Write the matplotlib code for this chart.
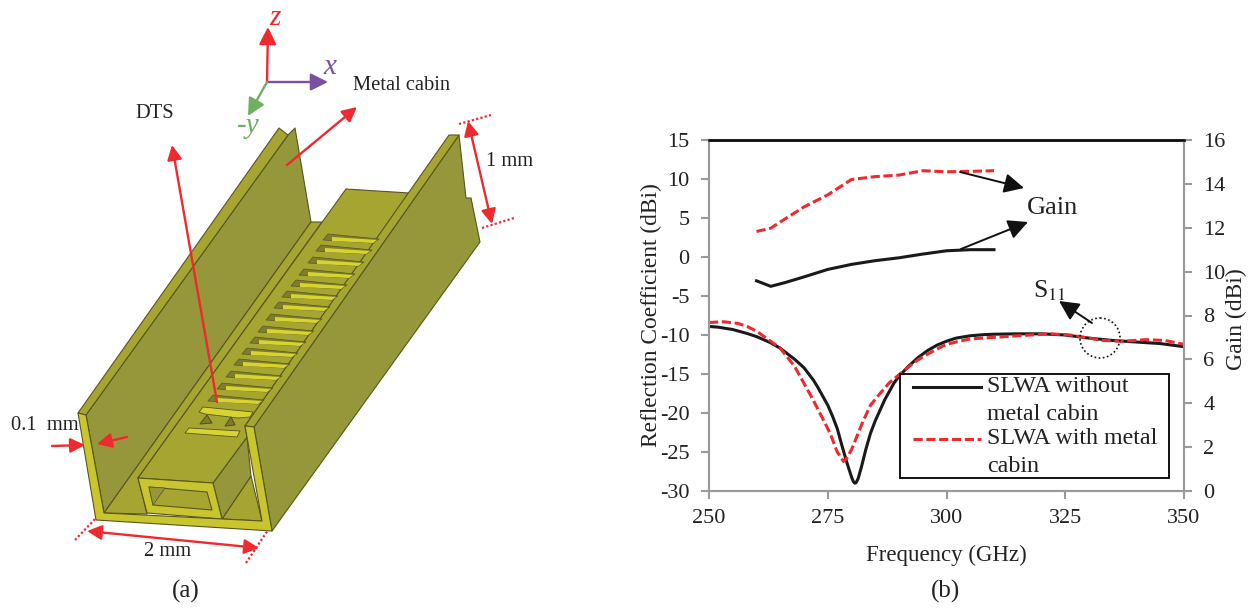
import matplotlib
matplotlib.use('Agg')
import matplotlib.pyplot as plt
from matplotlib.patches import Polygon, Circle, Rectangle

plt.rcParams['font.family'] = ['Liberation Serif', 'DejaVu Serif']
plt.rcParams['mathtext.fontset'] = 'stix'
plt.rcParams['axes.unicode_minus'] = False

W, H = 1251, 608

# S11 curves (left axis)
s11_freq_black = [250, 252, 255, 258, 260, 263, 265, 268, 270, 272, 273, 275, 276, 277, 278, 279, 280, 280.4, 280.7, 281, 281.4, 282.1, 283, 284, 285, 287, 289, 290, 292, 294, 296, 298, 300, 302, 305, 308, 310, 315, 320, 325, 330, 335, 340, 345, 350]
s11_black = [-8.9, -9.0, -9.3, -9.8, -10.2, -11.0, -11.7, -13.1, -14.2, -15.8, -16.8, -19, -20.4, -22, -24.2, -26.3, -28.2, -28.8, -29, -28.9, -28.4, -26.9, -24.7, -22.6, -21, -18.3, -16.1, -15.3, -14, -12.9, -12, -11.3, -10.8, -10.4, -10.1, -9.95, -9.9, -9.85, -9.85, -10, -10.4, -10.7, -10.9, -11.1, -11.5]
s11_freq_red = [250, 253, 256, 258, 260, 263, 265, 268, 270, 272, 274, 275.5, 277, 278.3, 279, 280, 281, 282.4, 284, 286, 288, 291, 293, 295, 298, 300, 302, 305, 310, 315, 322, 326, 330, 333, 337, 342, 346, 350]
s11_red = [-8.4, -8.3, -8.5, -8.9, -9.5, -10.8, -11.7, -14, -16.2, -18.4, -20.8, -22.6, -25, -26.2, -25.8, -24.7, -23.2, -21.1, -19, -17.5, -16.1, -14.6, -13.6, -12.8, -11.8, -11.2, -10.9, -10.5, -10.3, -10.1, -9.85, -10, -10.4, -10.7, -10.8, -10.6, -10.7, -11.2]

# gain curves (right axis)
gain_freq = [260, 263, 266, 270, 275, 280, 285, 290, 295, 300, 305, 310]
gain_black = [9.58, 9.33, 9.5, 9.76, 10.1, 10.33, 10.5, 10.63, 10.8, 10.95, 11, 11]
gain_red = [11.83, 11.98, 12.4, 12.95, 13.5, 14.2, 14.33, 14.4, 14.6, 14.55, 14.57, 14.6]

x_ticks = [250, 275, 300, 325, 350]
y_ticks = [-30, -25, -20, -15, -10, -5, 0, 5, 10, 15]
y2_ticks = [0, 2, 4, 6, 8, 10, 12, 14, 16]

legend_rows = ['SLWA without', 'metal cabin', 'SLWA with metal', 'cabin']

# outline of the 3D model in panel (a), in image pixels
wall_right_out = [(254, 427), (272, 531), (480, 242), (471, 198), (466, 198), (459, 135)]
wall_right_top = [(245, 426), (254, 427), (459, 135), (449, 135)]
wall_left_in = [(86, 415), (288, 135), (295, 128), (311, 222), (104, 513)]
wall_left_top = [(78, 413), (86, 415), (288, 135), (279, 128)]
floor_left = [(104, 513), (311, 222), (322, 222), (138, 478), (147, 514)]
floor_right = [(222, 519), (262, 521), (251, 476)]
box_side = [(213, 483), (247, 437), (251, 476), (222, 519)]
box_top = [(138, 478), (346, 189), (409, 193), (245, 426), (247, 437), (213, 483)]
front_u = [(78, 413), (86, 415), (104, 513), (262, 521), (245, 426), (254, 427), (272, 531), (96, 520)]
box_ring = [(138, 478), (213, 483), (222, 519), (147, 513)]
box_hole = [(149, 487), (207, 492), (212, 510), (153, 505)]
box_hole_dark = [(149, 487), (165, 488), (153, 505)]
slot_left_x = [323, 316, 308, 299, 291, 282, 274, 266, 258, 250, 242, 234, 226, 217, 208]
slot_y = [240, 251, 263, 275, 286, 297, 308, 320, 332, 343, 354, 365, 377, 389, 401]
feed_bar = [(199, 412), (203, 407), (253, 412), (250, 417), (238, 418), (205, 414)]
feed_leg_left = [(200, 424), (207, 415), (212, 423)]
feed_leg_right = [(225, 426), (231, 417), (235, 425)]
feed_low = [(185, 433), (189, 428), (240, 431), (237, 437)]
colour_dark = '#96963a'
colour_top = '#a7a532'
colour_front = '#c9c52e'
colour_bright = '#d8d42f'
colour_notch = '#7e7e2a'
colour_edge = '#565622'

fig = plt.figure(figsize=(W / 100, H / 100), dpi=100)

# panel (b)
ax = fig.add_axes([709 / W, 1 - 491 / H, 475 / W, 351 / H])
ax.plot(s11_freq_black, s11_black, color='#1a1a1a', lw=2.2)
ax.plot(s11_freq_red, s11_red, color='#ee2a2e', lw=2.2, ls=(0, (3, 1.2)))
ax.set_xlim(250, 350)
ax.set_ylim(-30, 15)
ax.set_xticks(x_ticks)
ax.set_yticks(y_ticks)
ax.set_xlabel('Frequency (GHz)', fontsize=16.5, labelpad=12, color='#222222')
ax.set_ylabel('Reflection Coefficient (dBi)', fontsize=16.8, color='#222222')
ax.yaxis.set_label_coords(-47 / 475, 1 - 175 / 351)
ax.tick_params(labelsize=16, color='#9a9a9a', width=1.5, length=6, labelcolor='#222222')
ax.tick_params(axis='x', pad=7)
ax.tick_params(axis='y', pad=8)

ax2 = ax.twinx()
ax2.plot(gain_freq, gain_black, color='#1a1a1a', lw=2.2)
ax2.plot(gain_freq, gain_red, color='#ee2a2e', lw=2.2, ls=(0, (3, 1.2)))
ax2.set_ylim(0, 16)
ax2.set_yticks(y2_ticks)
ax2.set_ylabel('Gain (dBi)', fontsize=17, color='#222222')
ax2.yaxis.set_label_coords(1 + 42 / 475, 1 - 179 / 351)
ax2.tick_params(labelsize=16, color='#9a9a9a', width=1.5, length=6, labelcolor='#222222', pad=8)
for a in [ax, ax2]:
    for side in ['left', 'right', 'bottom']:
        a.spines[side].set_color('#9a9a9a')
        a.spines[side].set_linewidth(1.5)
    a.spines['top'].set_color('#111111')
    a.spines['top'].set_linewidth(1.8)

# overlay in image pixels for the model and all callouts
ov = fig.add_axes([0, 0, 1, 1], facecolor='none')
ov.set_xlim(0, W)
ov.set_ylim(H, 0)
ov.axis('off')


def poly(pts, colour, lw=0.8):
    ov.add_patch(Polygon(pts, closed=True, facecolor=colour, edgecolor=colour_edge, lw=lw, joinstyle='round'))


def arrow(start, end, colour, style='-|>', size=22, lw=1.7):
    ov.annotate('', xy=end, xytext=start, arrowprops=dict(arrowstyle=style, color=colour, lw=lw, mutation_scale=size, shrinkA=0, shrinkB=0))


poly(wall_right_out, colour_dark)
poly(wall_left_in, colour_dark)
poly(floor_left, colour_top)
poly(floor_right, colour_top)
poly(box_side, colour_dark)
poly(box_top, colour_top)
poly(wall_left_top, colour_top)
poly(wall_right_top, colour_top)
for sx, sy in zip(slot_left_x, slot_y):
    poly([(sx, sy), (sx + 5, sy - 6), (sx + 56, sy - 1), (sx + 50, sy + 3)], colour_notch, 0.5)
    ov.add_patch(Polygon([(sx + 9, sy - 3), (sx + 54, sy), (sx + 50, sy + 3), (sx + 9, sy + 1)], facecolor=colour_bright, edgecolor='none'))
poly(feed_bar, colour_bright, 0.6)
poly(feed_leg_left, colour_notch, 0.8)
poly(feed_leg_right, colour_notch, 0.8)
poly(feed_low, colour_bright, 0.6)
poly(box_ring, colour_front)
poly(box_hole, colour_top)
poly(box_hole_dark, colour_dark, 0.5)
poly(front_u, colour_front)

red = '#ee2a2e'
arrow((267, 82), (268, 27), red, size=26)
arrow((267, 82), (328, 82), '#7b4fa3', size=26)
arrow((267, 82), (248, 116), '#6fb060', size=26)
arrow((287, 165), (357, 107), red)
arrow((217, 402), (172, 145), red)
arrow((468, 121), (492, 224), red, style='<|-|>')
arrow((87, 531), (259, 548), red, style='<|-|>')
arrow((52, 446), (85, 445), red)
arrow((127, 437), (97, 444), red)
for x0, y0, x1, y1 in [(459, 124, 491, 115), (482, 228, 514, 218), (75, 540, 96, 518), (246, 563, 268, 530)]:
    ov.plot([x0, x1], [y0, y1], color=red, lw=1.6, ls=(0, (1, 1)))

ov.text(275, 18, 'z', color=red, fontsize=21, style='italic', ha='center', va='center')
ov.text(330, 67, 'x', color='#7b4fa3', fontsize=21, style='italic', ha='center', va='center')
ov.text(248, 126, '-y', color='#6fb060', fontsize=21, style='italic', ha='center', va='center')
ov.text(402, 85, 'Metal cabin', color='#222222', fontsize=14.8, ha='center', va='center')
ov.text(155, 113, 'DTS', color='#222222', fontsize=14.8, ha='center', va='center')
ov.text(510, 161, '1 mm', color='#222222', fontsize=14.8, ha='center', va='center')
ov.text(45, 425, '0.1  mm', color='#222222', fontsize=14.8, ha='center', va='center')
ov.text(168, 552, '2 mm', color='#222222', fontsize=14.8, ha='center', va='center')
ov.text(186, 591, '(a)', color='#222222', fontsize=18, ha='center', va='center')
ov.text(946, 591, '(b)', color='#222222', fontsize=18, ha='center', va='center')

# legend box, the first line of each entry sits level with its sample line
ov.add_patch(Rectangle((900, 374), 269, 104, facecolor='white', edgecolor='#111111', lw=1.4))
ov.plot([913, 981], [387, 387], color='#1a1a1a', lw=2.2)
ov.plot([913, 981], [439, 439], color='#ee2a2e', lw=2.2, ls=(0, (3, 1.2)))
for row, ypos in zip(legend_rows, [387, 415, 439, 466]):
    ov.text(987, ypos, row, color='#222222', fontsize=17.3, ha='left', va='center')

# callouts on the chart
arrow((960, 172), (1024, 188), '#111111', size=30, lw=1.4)
arrow((961, 249), (1028, 222), '#111111', size=30, lw=1.4)
arrow((1092, 323), (1059, 301), '#111111', size=30, lw=1.4)
ov.add_patch(Circle((1100, 338), 20, fill=False, edgecolor='#111111', lw=1.2, ls=(0, (1, 1.5))))
ov.text(1053, 208, 'Gain', color='#222222', fontsize=19, ha='center', va='center')
ov.text(1049, 291, 'S$_{11}$', color='#222222', fontsize=18.5, ha='center', va='center')

fig.savefig('out.png', dpi=100)
